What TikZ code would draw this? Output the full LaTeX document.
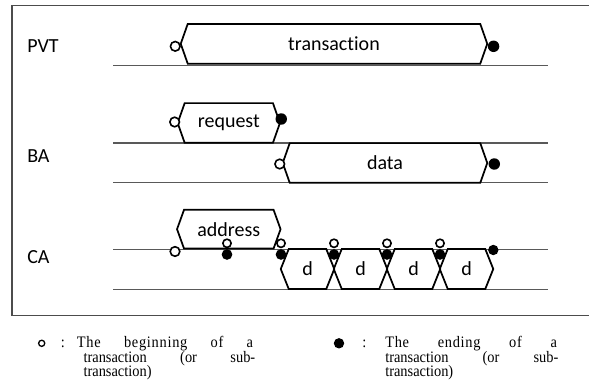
\documentclass[tikz,border=0pt]{standalone}
\usepackage{fontspec}
\setmainfont{Carlito}[Ligatures=NoCommon]
\newfontfamily\legendfont{Liberation Serif}
\usepackage{graphicx}
\usepackage{tikz}
\usetikzlibrary{positioning}

\begin{document}
\begin{tikzpicture}[x=0.75pt,y=-0.75pt,
		sig/.style={font=\fontsize{15}{18}\selectfont},
		hexbox/.style={sig, inner sep=0pt, minimum height=29.4pt},
		hexline/.style={line width=1.3pt, line join=miter},
		wire/.style={line width=0.9pt, black!65},
		opendot/.style={circle, draw, line width=1.2pt, fill=white, inner sep=0pt, minimum size=7.2pt},
		enddot/.style={circle, fill=black, inner sep=0pt, minimum size=8.6pt},
		small/.style={minimum size=6.2pt},
		legend/.style={font=\legendfont\fontsize{12}{12}\selectfont, inner sep=0pt, anchor=base west},
		spaced/.style={font=\legendfont\fontsize{12}{12}\selectfont\addfontfeature{LetterSpace=5}}]
	\useasboundingbox (0,0) rectangle (589,391);
	% cadre
	\draw[line width=0.8pt, black!70] (592,5.7) -- (12,5.7) -- (12,315.5) -- (592,315.5);
	
	% noms des bus
	\node[sig, inner sep=0pt, anchor=west] (pvt) at (27,46) {PVT};
	\node[sig, inner sep=0pt, anchor=west] (ba) at (27,156) {BA};
	\node[sig, inner sep=0pt, anchor=west] (ca) at (27,257) {CA};
	
	% lignes de temps
	\foreach \y in {65.7,143,182.7,249.3,289.3}
		\draw[wire] (113,\y) -- (547.5,\y);
	
	% valeurs sur les bus
	\node[hexbox, minimum width=219pt] (trans) at (334,43.8) {transaction};
	\node[hexbox, minimum width=65.8pt] (req) at (228.8,123) {request};
	\node[hexbox, minimum width=142.5pt] (dat) at (385,163) {data};
	\node[hexbox, minimum width=66.75pt, minimum height=28.7pt] (addr) at (228.8,229.2) {address};
	\foreach \i in {1,...,4}
		\node[hexbox, minimum width=27.75pt, minimum height=29.6pt] (d\i) at ({307.5+53*(\i-1)},269) {d};
	
	\foreach \n/\t in {trans/7,req/7,dat/7,addr/7,d1/8,d2/8,d3/8,d4/8}
		\draw[hexline] ([shift={(-\t,0)}]\n.west) -- (\n.north west) -- (\n.north east)
			-- ([shift={(\t,0)}]\n.east) -- (\n.south east) -- (\n.south west) -- cycle;
	
	% debut et fin
	\node[opendot] (bt) at ([shift={(-12.5,2.5)}]trans.west) {};
	\node[enddot] (et) at ([shift={(13.3,2.5)}]trans.east) {};
	\node[opendot] (br) at ([shift={(-10,-1)}]req.west) {};
	\node[enddot] (er) at ([shift={(8.3,-4)}]req.east) {};
	\node[opendot] (bd) at ([shift={(-10,1)}]dat.west) {};
	\node[enddot] (ed) at ([shift={(14,1)}]dat.east) {};
	\node[opendot] (ba0) at (175,251.5) {};
	\foreach \x [count=\k] in {227,281,334,387,440} {
		\node[enddot, minimum size=8pt] (e\k) at (\x,254.5) {};
		\node[opendot, small] (s\k) at (\x,243.3) {};
	}
	\node[enddot, minimum size=7.8pt] (e6) at (493.3,250) {};
	
	% legende
	\node[opendot, minimum size=4.6pt, line width=1pt] (lo) at (41.7,343.3) {};
	\node[legend] (lc1) at (60.5,347.7) {\scalebox{0.9}[1]{:}};
	\node[legend, spaced] (lb1) at (76.7,347.7) {\scalebox{0.9}[1]{\makebox[146.7pt][s]{The beginning of a}}};
	\node[legend] (lb2) at (83.3,362.5) {\scalebox{0.9}[1]{\makebox[143.1pt][s]{transaction (or sub-}}};
	\node[legend] (lb3) at (83.3,376.5) {\scalebox{0.9}[1]{transaction)}};
	
	\node[enddot, minimum size=7.8pt] (lf) at (339,343.3) {};
	\node[legend] (lc2) at (362,347.3) {\scalebox{0.9}[1]{:}};
	\node[legend, spaced] (le1) at (385,347.3) {\scalebox{0.9}[1]{\makebox[143.1pt][s]{The ending of a}}};
	\node[legend] (le2) at (385,362.1) {\scalebox{0.9}[1]{\makebox[144.2pt][s]{transaction (or sub-}}};
	\node[legend] (le3) at (385,376.8) {\scalebox{0.9}[1]{transaction)}};
\end{tikzpicture}
\end{document}
